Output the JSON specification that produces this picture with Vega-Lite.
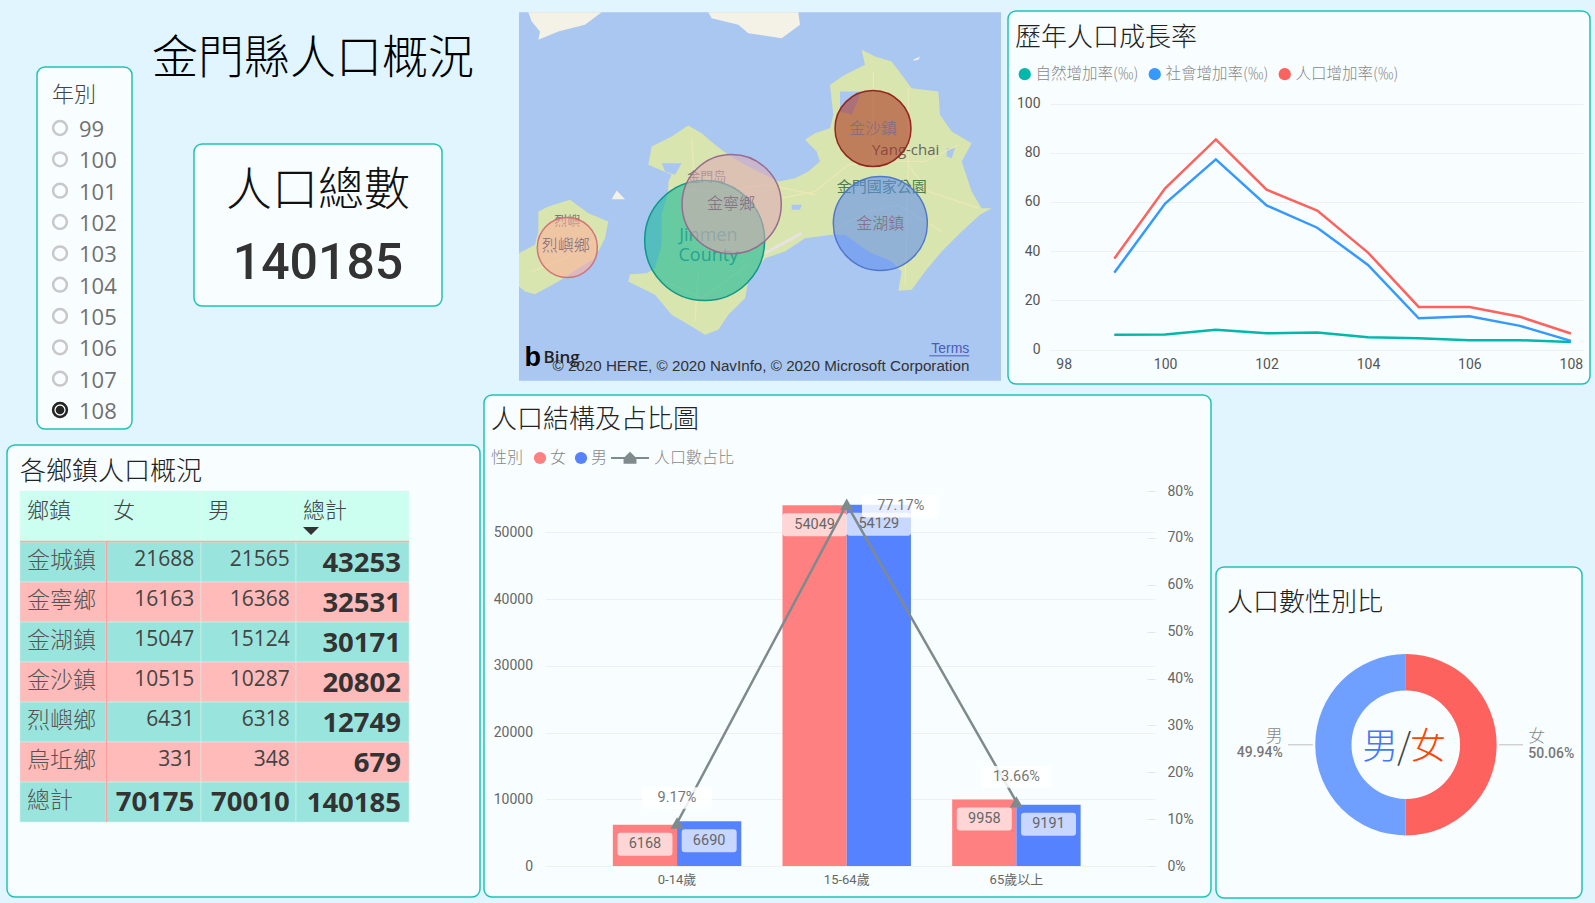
{"$schema":"https://vega.github.io/schema/vega-lite/v6.json","background":"#e0f5ff","padding":0,"spacing":0,"resolve":{"scale":{"color":"independent","fill":"independent","stroke":"independent","size":"independent"}},"config":{"font":"Roboto, Noto Sans CJK TC","view":{"stroke":null},"axis":{"labelFont":"Roboto, Noto Sans CJK TC"},"legend":{"labelFont":"Noto Sans CJK TC","titleFont":"Noto Sans CJK TC"},"concat":{"spacing":0}},
"hconcat":[
{"width":6,"height":20,"data":{"values":[{"s":1}]},"mark":{"type":"point","opacity":0,"size":0,"strokeWidth":0},"encoding":{}},
{"spacing":0,"resolve":{"scale":{"color":"independent","fill":"independent","stroke":"independent","size":"independent"}},"vconcat":[
 {"spacing":0,"resolve":{"scale":{"color":"independent","fill":"independent","stroke":"independent","size":"independent"}},"hconcat":[
  {"width":29,"height":444,"data":{"values":[{"s":1}]},"mark":{"type":"point","opacity":0,"size":0,"strokeWidth":0},"encoding":{}},
  {"spacing":0,"resolve":{"scale":{"color":"independent","fill":"independent","stroke":"independent","size":"independent"}},"vconcat":[
   {"width":95,"height":66,"data":{"values":[{"s":1}]},"mark":{"type":"point","opacity":0,"size":0,"strokeWidth":0},"encoding":{}},
   {"width":95,"height":362,"view":{"fill":"#f8feff","stroke":"#1fc2b5","strokeWidth":1.5,"cornerRadius":8},
    "title":{"text":"年別","anchor":"start","frame":"group","dy":66,"dx":15,"fontSize":22,"fontWeight":300,"font":"Noto Sans CJK TC","color":"#444","baseline":"bottom"},
    "data":{"values":[{"年別":"99","選取":false},{"年別":"100","選取":false},{"年別":"101","選取":false},{"年別":"102","選取":false},{"年別":"103","選取":false},{"年別":"104","選取":false},{"年別":"105","選取":false},{"年別":"106","選取":false},{"年別":"107","選取":false},{"年別":"108","選取":true}]},
    "encoding":{"y":{"field":"年別","type":"nominal","sort":null,"axis":null,"scale":{"type":"point","domain":["99","100","101","102","103","104","105","106","107","108"],"range":[61,343],"padding":0}}},
    "layer":[
     {"mark":{"type":"point","size":190,"strokeWidth":2.5,"color":"#c8c8c8","opacity":1},"encoding":{"x":{"datum":23,"type":"quantitative","axis":null,"scale":{"domain":[0,95],"nice":false}}}},
     {"transform":[{"filter":"datum['選取']"}],"mark":{"type":"point","size":190,"strokeWidth":2.5,"color":"#252423","opacity":1},"encoding":{"x":{"datum":23,"type":"quantitative","axis":null,"scale":{"domain":[0,95],"nice":false}}}},
     {"transform":[{"filter":"datum['選取']"}],"mark":{"type":"point","size":75,"filled":true,"color":"#252423","opacity":1},"encoding":{"x":{"datum":23,"type":"quantitative","axis":null,"scale":{"domain":[0,95],"nice":false}}}},
     {"mark":{"type":"text","align":"left","font":"Open Sans","fontSize":22,"color":"#707070","dy":2},"encoding":{"x":{"datum":42,"type":"quantitative","axis":null,"scale":{"domain":[0,95],"nice":false}},"text":{"field":"年別"}}}
    ]}
  ]},
  {"width":17,"height":20,"data":{"values":[{"s":1}]},"mark":{"type":"point","opacity":0,"size":0,"strokeWidth":0},"encoding":{}},
  {"spacing":0,"resolve":{"scale":{"color":"independent","fill":"independent","stroke":"independent","size":"independent"}},"vconcat":[
   {"width":326,"height":143,"data":{"values":[{"標題":"金門縣人口概況"}]},"mark":{"type":"text","font":"Noto Sans CJK TC","fontWeight":300,"fontSize":46,"color":"#000","dy":-13},"encoding":{"text":{"field":"標題"}}},
   {"spacing":0,"resolve":{"scale":{"color":"independent","fill":"independent","stroke":"independent","size":"independent"}},"hconcat":[
    {"width":43,"height":20,"data":{"values":[{"s":1}]},"mark":{"type":"point","opacity":0,"size":0,"strokeWidth":0},"encoding":{}},
    {"width":248,"height":162,"view":{"fill":"#f8feff","stroke":"#1fc2b5","strokeWidth":1.5,"cornerRadius":8},
    "data":{"values":[{"項目":"人口總數","值":140185}]},
    "layer":[
     {"mark":{"type":"text","font":"Noto Sans CJK TC","fontWeight":300,"fontSize":46,"color":"#111","dy":-34},"encoding":{"text":{"field":"項目"}}},
     {"mark":{"type":"text","font":"Roboto","fontWeight":500,"fontSize":50,"color":"#333","dy":39},"encoding":{"text":{"field":"值","format":"d"}}}
    ]}
   ]}
  ]}
 ]},
 {"width":473,"height":452,"view":{"fill":"#f8feff","stroke":"#1fc2b5","strokeWidth":1.5,"cornerRadius":8},
  "title":{"text":"各鄉鎮人口概況","anchor":"start","frame":"group","dy":70,"dx":13,"fontSize":26,"fontWeight":300,"font":"Noto Sans CJK TC","color":"#222","baseline":"bottom"},
  "data":{"values":[{"鄉鎮":"金城鎮","女":21688,"男":21565,"總計":43253},{"鄉鎮":"金寧鄉","女":16163,"男":16368,"總計":32531},{"鄉鎮":"金湖鎮","女":15047,"男":15124,"總計":30171},{"鄉鎮":"金沙鎮","女":10515,"男":10287,"總計":20802},{"鄉鎮":"烈嶼鄉","女":6431,"男":6318,"總計":12749},{"鄉鎮":"烏坵鄉","女":331,"男":348,"總計":679},{"鄉鎮":"總計","女":70175,"男":70010,"總計":140185}]},
  "encoding":{"y":{"field":"鄉鎮","type":"nominal","axis":null,"sort":null,"scale":{"type":"band","domain":["表頭","金城鎮","金寧鄉","金湖鎮","金沙鎮","烈嶼鄉","烏坵鄉","總計"],"range":[57,377],"paddingInner":0,"paddingOuter":0}}},
  "layer":[
   {"mark":{"type":"rect","stroke":"#d3efe9","strokeWidth":0.6},"encoding":{"x":{"datum":13,"type":"quantitative","axis":null,"scale":{"domain":[0,473],"nice":false}},"x2":{"datum":99},"fill":{"field":"鄉鎮","type":"nominal","legend":null,"scale":{"domain":["金城鎮","金寧鄉","金湖鎮","金沙鎮","烈嶼鄉","烏坵鄉","總計"],"range":["#99e5dd","#ffbaba","#99e5dd","#ffbaba","#99e5dd","#ffbaba","#99e5dd"]}}}},
   {"mark":{"type":"rect","stroke":"#d3efe9","strokeWidth":0.6},"encoding":{"x":{"datum":99,"type":"quantitative","axis":null,"scale":{"domain":[0,473],"nice":false}},"x2":{"datum":194},"fill":{"field":"鄉鎮","type":"nominal","legend":null}}},
   {"mark":{"type":"rect","stroke":"#d3efe9","strokeWidth":0.6},"encoding":{"x":{"datum":194,"type":"quantitative","axis":null,"scale":{"domain":[0,473],"nice":false}},"x2":{"datum":289},"fill":{"field":"鄉鎮","type":"nominal","legend":null}}},
   {"mark":{"type":"rect","stroke":"#d3efe9","strokeWidth":0.6},"encoding":{"x":{"datum":289,"type":"quantitative","axis":null,"scale":{"domain":[0,473],"nice":false}},"x2":{"datum":402},"fill":{"field":"鄉鎮","type":"nominal","legend":null}}},
   {"mark":{"type":"rect","color":"#ff9d9d"},"encoding":{"x":{"datum":98.8,"type":"quantitative","axis":null,"scale":{"domain":[0,473],"nice":false}},"x2":{"datum":100}}},
   {"data":{"values":[{"鄉鎮":"表頭","欄":"鄉鎮"}]},"mark":{"type":"rect","height":50,"yOffset":-6,"color":"#ccfff0","stroke":"#e8f5ee","strokeWidth":0.6},"encoding":{"x":{"datum":13,"type":"quantitative","axis":null,"scale":{"domain":[0,473],"nice":false}},"x2":{"datum":99}}},
   {"data":{"values":[{"鄉鎮":"表頭","欄":"女"}]},"mark":{"type":"rect","height":50,"yOffset":-6,"color":"#ccfff0","stroke":"#e8f5ee","strokeWidth":0.6},"encoding":{"x":{"datum":99,"type":"quantitative","axis":null,"scale":{"domain":[0,473],"nice":false}},"x2":{"datum":194}}},
   {"data":{"values":[{"鄉鎮":"表頭","欄":"男"}]},"mark":{"type":"rect","height":50,"yOffset":-6,"color":"#ccfff0","stroke":"#e8f5ee","strokeWidth":0.6},"encoding":{"x":{"datum":194,"type":"quantitative","axis":null,"scale":{"domain":[0,473],"nice":false}},"x2":{"datum":289}}},
   {"data":{"values":[{"鄉鎮":"表頭","欄":"總計"}]},"mark":{"type":"rect","height":50,"yOffset":-6,"color":"#ccfff0","stroke":"#e8f5ee","strokeWidth":0.6},"encoding":{"x":{"datum":289,"type":"quantitative","axis":null,"scale":{"domain":[0,473],"nice":false}},"x2":{"datum":402}}},
   {"data":{"values":[{"鄉鎮":"表頭"}]},"mark":{"type":"rect","height":1.5,"yOffset":19.5,"color":"#ffa9a9"},"encoding":{"x":{"datum":13,"type":"quantitative","axis":null,"scale":{"domain":[0,473],"nice":false}},"x2":{"datum":402}}},
   {"data":{"values":[{"鄉鎮":"表頭","欄":"鄉鎮"}]},"mark":{"type":"text","align":"left","font":"Noto Sans CJK TC","fontWeight":300,"fontSize":22,"color":"#444","dy":-11},"encoding":{"x":{"datum":20,"type":"quantitative","axis":null,"scale":{"domain":[0,473],"nice":false}},"text":{"field":"欄"}}},
   {"data":{"values":[{"鄉鎮":"表頭","欄":"女"}]},"mark":{"type":"text","align":"left","font":"Noto Sans CJK TC","fontWeight":300,"fontSize":22,"color":"#444","dy":-11},"encoding":{"x":{"datum":106,"type":"quantitative","axis":null,"scale":{"domain":[0,473],"nice":false}},"text":{"field":"欄"}}},
   {"data":{"values":[{"鄉鎮":"表頭","欄":"男"}]},"mark":{"type":"text","align":"left","font":"Noto Sans CJK TC","fontWeight":300,"fontSize":22,"color":"#444","dy":-11},"encoding":{"x":{"datum":201,"type":"quantitative","axis":null,"scale":{"domain":[0,473],"nice":false}},"text":{"field":"欄"}}},
   {"data":{"values":[{"鄉鎮":"表頭","欄":"總計"}]},"mark":{"type":"text","align":"left","font":"Noto Sans CJK TC","fontWeight":300,"fontSize":22,"color":"#444","dy":-11},"encoding":{"x":{"datum":296,"type":"quantitative","axis":null,"scale":{"domain":[0,473],"nice":false}},"text":{"field":"欄"}}},
   {"data":{"values":[{"鄉鎮":"表頭","排序":"遞減"}]},"mark":{"type":"point","filled":true,"opacity":1,"color":"#333","strokeWidth":0,"size":256,"yOffset":9,"shape":"M-1,-0.5 L1,-0.5 L0,0.5 Z"},"encoding":{"x":{"datum":304,"type":"quantitative","axis":null,"scale":{"domain":[0,473],"nice":false}}}},
   {"mark":{"type":"text","align":"left","font":"Noto Sans CJK TC","fontWeight":300,"fontSize":23,"color":"#555","dy":-1},"encoding":{"x":{"datum":20,"type":"quantitative","axis":null,"scale":{"domain":[0,473],"nice":false}},"text":{"field":"鄉鎮"}}},
   {"transform":[{"filter":"datum['鄉鎮'] !== '總計'"}],"mark":{"type":"text","align":"right","font":"Open Sans","fontSize":21,"color":"#444","dy":-2},"encoding":{"x":{"datum":187.3,"type":"quantitative","axis":null,"scale":{"domain":[0,473],"nice":false}},"text":{"field":"女","format":"d"}}},
   {"transform":[{"filter":"datum['鄉鎮'] !== '總計'"}],"mark":{"type":"text","align":"right","font":"Open Sans","fontSize":21,"color":"#444","dy":-2},"encoding":{"x":{"datum":282.7,"type":"quantitative","axis":null,"scale":{"domain":[0,473],"nice":false}},"text":{"field":"男","format":"d"}}},
   {"transform":[{"filter":"datum['鄉鎮'] === '總計'"}],"mark":{"type":"text","align":"right","font":"Open Sans","fontWeight":"bold","fontSize":27.5,"color":"#333","dy":1},"encoding":{"x":{"datum":187.3,"type":"quantitative","axis":null,"scale":{"domain":[0,473],"nice":false}},"text":{"field":"女","format":"d"}}},
   {"transform":[{"filter":"datum['鄉鎮'] === '總計'"}],"mark":{"type":"text","align":"right","font":"Open Sans","fontWeight":"bold","fontSize":27.5,"color":"#333","dy":1},"encoding":{"x":{"datum":282.7,"type":"quantitative","axis":null,"scale":{"domain":[0,473],"nice":false}},"text":{"field":"男","format":"d"}}},
   {"mark":{"type":"text","align":"right","font":"Open Sans","fontWeight":"bold","fontSize":27.5,"color":"#333","dy":2},"encoding":{"x":{"datum":394,"type":"quantitative","axis":null,"scale":{"domain":[0,473],"nice":false}},"text":{"field":"總計","format":"d"}}}
  ]},
 {"width":20,"height":4,"data":{"values":[{"s":1}]},"mark":{"type":"point","opacity":0,"size":0,"strokeWidth":0},"encoding":{}}
]},
{"width":2,"height":20,"data":{"values":[{"s":1}]},"mark":{"type":"point","opacity":0,"size":0,"strokeWidth":0},"encoding":{}},
{"spacing":0,"resolve":{"scale":{"color":"independent","fill":"independent","stroke":"independent","size":"independent"}},"vconcat":[
 {"spacing":0,"resolve":{"scale":{"color":"independent","fill":"independent","stroke":"independent","size":"independent"}},"hconcat":[
  {"width":35,"height":392,"data":{"values":[{"s":1}]},"mark":{"type":"point","opacity":0,"size":0,"strokeWidth":0},"encoding":{}},
  {"spacing":0,"resolve":{"scale":{"color":"independent","fill":"independent","stroke":"independent","size":"independent"}},"vconcat":[
   {"width":482,"height":12,"data":{"values":[{"s":1}]},"mark":{"type":"point","opacity":0,"size":0,"strokeWidth":0},"encoding":{}},
   {"width":482,"height":369,"projection":{"type":"identity","reflectY":true},
    "layer":[
     {"data":{"values":[
       {"type":"Feature","properties":{"類別":"海"},"geometry":{"type":"Polygon","coordinates":[[[118.012,24.978],[119.458,24.978],[119.458,23.872],[118.012,23.872],[118.012,24.978]]]}},
       {"type":"Feature","properties":{"類別":"大陸"},"geometry":{"type":"Polygon","coordinates":[[[118.04,24.978],[118.26,24.978],[118.21,24.94],[118.13,24.92],[118.07,24.895],[118.075,24.92],[118.05,24.95],[118.04,24.978]]]}},
       {"type":"Feature","properties":{"類別":"大陸"},"geometry":{"type":"Polygon","coordinates":[[[118.58,24.978],[118.85,24.978],[118.855,24.94],[118.8,24.9],[118.7,24.915],[118.67,24.94],[118.59,24.96],[118.58,24.978]]]}},
       {"type":"Feature","properties":{"類別":"大陸"},"geometry":{"type":"Polygon","coordinates":[[[118.29,24.417],[118.305,24.443],[118.33,24.417],[118.29,24.417]]]}},
       {"type":"Feature","properties":{"類別":"大陸"},"geometry":{"type":"Polygon","coordinates":[[[119.195,24.835],[119.215,24.845],[119.21,24.835],[119.195,24.832],[119.195,24.835]]]}},
       {"type":"Feature","properties":{"類別":"陸地","名稱":"大金門"},"geometry":{"type":"Polygon","coordinates":[[[118.52,24.638],[118.56,24.615],[118.6,24.58],[118.64,24.55],[118.69,24.52],[118.74,24.495],[118.79,24.47],[118.84,24.48],[118.88,24.5],[118.915,24.53],[118.905,24.56],[118.87,24.595],[118.9,24.615],[118.945,24.63],[118.955,24.67],[118.945,24.76],[118.99,24.79],[119.05,24.82],[119.04,24.865],[119.08,24.845],[119.13,24.83],[119.16,24.79],[119.19,24.75],[119.27,24.74],[119.275,24.67],[119.31,24.62],[119.37,24.585],[119.34,24.53],[119.37,24.44],[119.4,24.39],[119.43,24.39],[119.395,24.37],[119.34,24.32],[119.28,24.26],[119.23,24.2],[119.19,24.145],[119.15,24.142],[119.16,24.2],[119.13,24.23],[119.06,24.26],[118.99,24.31],[118.95,24.31],[118.87,24.3],[118.81,24.26],[118.75,24.24],[118.7,24.17],[118.69,24.12],[118.64,24.07],[118.61,24.025],[118.57,24.01],[118.53,24.035],[118.47,24.07],[118.42,24.13],[118.34,24.17],[118.345,24.192],[118.395,24.195],[118.42,24.21],[118.44,24.28],[118.44,24.37],[118.46,24.44],[118.46,24.47],[118.47,24.49],[118.4,24.52],[118.41,24.575],[118.47,24.605],[118.52,24.638]]]}},
       {"type":"Feature","properties":{"類別":"陸地","名稱":"烈嶼"},"geometry":{"type":"Polygon","coordinates":[[[118.07,24.38],[118.1,24.395],[118.165,24.415],[118.22,24.375],[118.28,24.35],[118.27,24.3],[118.24,24.24],[118.19,24.21],[118.13,24.17],[118.06,24.132],[118.03,24.14],[118.012,24.155],[118.012,24.255],[118.06,24.28],[118.07,24.32],[118.07,24.38]]]}},
       {"type":"Feature","properties":{"類別":"湖"},"geometry":{"type":"Polygon","coordinates":[[[118.44,24.525],[118.5,24.525],[118.48,24.49],[118.45,24.5],[118.44,24.525]]]}},
       {"type":"Feature","properties":{"類別":"湖"},"geometry":{"type":"Polygon","coordinates":[[[118.975,24.74],[119.04,24.74],[119.01,24.67],[118.975,24.68],[118.975,24.74]]]}},
       {"type":"Feature","properties":{"類別":"湖"},"geometry":{"type":"Polygon","coordinates":[[[118.83,24.4],[118.86,24.4],[118.855,24.385],[118.83,24.385],[118.83,24.4]]]}},
       {"type":"Feature","properties":{"類別":"湖"},"geometry":{"type":"Polygon","coordinates":[[[119.295,24.57],[119.32,24.57],[119.31,24.54],[119.295,24.545],[119.295,24.57]]]}}
      ]},
      "mark":{"type":"geoshape","strokeWidth":0},
      "encoding":{"color":{"field":"properties.類別","type":"nominal","legend":null,"scale":{"domain":["海","大陸","陸地","湖"],"range":["#aac7f1","#f4f1e6","#d9e5ae","#aac7f1"]}}}},
     {"data":{"values":[
       {"type":"Feature","properties":{"類別":"道路"},"geometry":{"type":"MultiLineString","coordinates":[[[118.8,24.42],[118.9,24.44],[119.0,24.52],[119.1,24.53],[119.23,24.53],[119.33,24.58]],[[118.95,24.32],[119.06,24.38],[119.15,24.4],[119.28,24.32]],[[119.075,24.8],[119.075,24.52]],[[119.18,24.52],[119.24,24.44],[119.39,24.39]],[[118.46,24.45],[118.6,24.44],[118.76,24.46],[118.9,24.43]],[[118.45,24.17],[118.56,24.12],[118.7,24.22]],[[118.05,24.2],[118.15,24.24],[118.25,24.3]],[[118.53,24.6],[118.54,24.44]],[[118.54,24.05],[118.55,24.2]],[[119.18,24.75],[119.18,24.52],[119.17,24.16]]]}}
      ]},"mark":{"type":"geoshape","filled":false,"stroke":"#ece8b4","strokeWidth":1.2}},
     {"data":{"values":[{"type":"Feature","properties":{"類別":"機場"},"geometry":{"type":"LineString","coordinates":[[118.75,24.255],[118.86,24.315]]}}]},"mark":{"type":"geoshape","filled":false,"stroke":"#e6e2e2","strokeWidth":3}},
     {"data":{"values":[{"label":"金門岛","lon":118.575,"lat":24.485},{"label":"烈嶼","lon":118.157,"lat":24.352}]},"mark":{"type":"text","font":"Noto Sans CJK TC","fontSize":13,"color":"#777"},"encoding":{"longitude":{"field":"lon","type":"quantitative"},"latitude":{"field":"lat","type":"quantitative"},"text":{"field":"label"}}},
     {"data":{"values":[{"label":"金門國家公園","lon":119.1,"lat":24.454}]},"mark":{"type":"text","font":"Noto Sans CJK TC","fontSize":15,"color":"#4d7d52"},"encoding":{"longitude":{"field":"lon","type":"quantitative"},"latitude":{"field":"lat","type":"quantitative"},"text":{"field":"label"}}},
     {"data":{"values":[{"label":"Yang-chai","lon":119.172,"lat":24.564}]},"mark":{"type":"text","font":"Open Sans","fontSize":15,"color":"#666"},"encoding":{"longitude":{"field":"lon","type":"quantitative"},"latitude":{"field":"lat","type":"quantitative"},"text":{"field":"label"}}},
     {"data":{"values":[{"label":"Jinmen","lon":118.58,"lat":24.307},{"label":"County","lon":118.58,"lat":24.248}]},"mark":{"type":"text","font":"Open Sans","fontSize":18,"color":"#3f8585"},"encoding":{"longitude":{"field":"lon","type":"quantitative"},"latitude":{"field":"lat","type":"quantitative"},"text":{"field":"label"}}},
     {"data":{"values":[{"鄉鎮":"金城鎮","lon":118.569,"lat":24.293,"總計":43253},{"鄉鎮":"金寧鄉","lon":118.65,"lat":24.402,"總計":32531},{"鄉鎮":"金湖鎮","lon":119.096,"lat":24.344,"總計":30171},{"鄉鎮":"金沙鎮","lon":119.074,"lat":24.629,"總計":20802},{"鄉鎮":"烈嶼鄉","lon":118.157,"lat":24.272,"總計":12749}]},
      "mark":{"type":"point","filled":true,"fillOpacity":0.58,"strokeOpacity":0.95,"strokeWidth":1.5,"opacity":1},
      "encoding":{"longitude":{"field":"lon","type":"quantitative"},"latitude":{"field":"lat","type":"quantitative"},
       "size":{"field":"總計","type":"quantitative","legend":null,"scale":{"domain":[12749,20802,30171,32531,43253],"range":[3600,5776,8836,9841,14400],"zero":false}},
       "fill":{"field":"鄉鎮","type":"nominal","legend":null,"scale":{"domain":["金城鎮","金寧鄉","金湖鎮","金沙鎮","烈嶼鄉"],"range":["#14b897","#dfa8b5","#5d8ef0","#ab3320","#ffb09c"]}},
       "stroke":{"field":"鄉鎮","type":"nominal","legend":null,"scale":{"domain":["金城鎮","金寧鄉","金湖鎮","金沙鎮","烈嶼鄉"],"range":["#0a9484","#94688c","#4a74c8","#8e2018","#d06f74"]}}}},
     {"data":{"values":[{"鄉鎮":"金城鎮","lon":118.569,"lat":24.293},{"鄉鎮":"金寧鄉","lon":118.648,"lat":24.402},{"鄉鎮":"金湖鎮","lon":119.096,"lat":24.344},{"鄉鎮":"金沙鎮","lon":119.074,"lat":24.629},{"鄉鎮":"烈嶼鄉","lon":118.152,"lat":24.276}]},
      "transform":[{"filter":"datum['鄉鎮'] !== '金城鎮'"}],
      "mark":{"type":"text","font":"Noto Sans CJK TC","fontWeight":300,"fontSize":16,"color":"#7f6a80"},"encoding":{"longitude":{"field":"lon","type":"quantitative"},"latitude":{"field":"lat","type":"quantitative"},"text":{"field":"鄉鎮"}}},
     {"data":{"values":[{"type":"Feature","properties":{"類別":"連結線"},"geometry":{"type":"LineString","coordinates":[[119.243,23.947],[119.363,23.947]]}}]},"mark":{"type":"geoshape","filled":false,"stroke":"#4a5bb8","strokeWidth":1}},
     {"data":{"values":[{"label":"Terms","lon":119.363,"lat":23.967}]},"mark":{"type":"text","align":"right","font":"Liberation Sans","fontSize":14,"color":"#4a5bb8"},"encoding":{"longitude":{"field":"lon","type":"quantitative"},"latitude":{"field":"lat","type":"quantitative"},"text":{"field":"label"}}},
     {"data":{"values":[{"label":"b","lon":118.053,"lat":23.94}]},"mark":{"type":"text","font":"Liberation Sans","fontWeight":"bold","fontSize":27,"color":"#000"},"encoding":{"longitude":{"field":"lon","type":"quantitative"},"latitude":{"field":"lat","type":"quantitative"},"text":{"field":"label"}}},
     {"data":{"values":[{"label":"Bing","lon":118.14,"lat":23.94}]},"mark":{"type":"text","font":"Open Sans","fontWeight":600,"fontSize":17,"color":"#222"},"encoding":{"longitude":{"field":"lon","type":"quantitative"},"latitude":{"field":"lat","type":"quantitative"},"text":{"field":"label"}}},
     {"data":{"values":[{"label":"© 2020 HERE, © 2020 NavInfo, © 2020 Microsoft Corporation","lon":119.363,"lat":23.917}]},"mark":{"type":"text","align":"right","font":"Liberation Sans","fontSize":15.2,"color":"#333"},"encoding":{"longitude":{"field":"lon","type":"quantitative"},"latitude":{"field":"lat","type":"quantitative"},"text":{"field":"label"}}}
    ]}
  ]},
  {"width":6,"height":20,"data":{"values":[{"s":1}]},"mark":{"type":"point","opacity":0,"size":0,"strokeWidth":0},"encoding":{}},
  {"spacing":0,"resolve":{"scale":{"color":"independent","fill":"independent","stroke":"independent","size":"independent"}},"vconcat":[
   {"width":582,"height":10,"data":{"values":[{"s":1}]},"mark":{"type":"point","opacity":0,"size":0,"strokeWidth":0},"encoding":{}},
   {"width":582,"height":373,"view":{"fill":"#f8feff","stroke":"#1fc2b5","strokeWidth":1.5,"cornerRadius":8},
    "title":{"text":"歷年人口成長率","anchor":"start","frame":"group","dy":70,"dx":7,"fontSize":26,"fontWeight":300,"font":"Noto Sans CJK TC","color":"#222","baseline":"bottom"},
    "data":{"values":[
     {"年別":99,"系列":"自然增加率(‰)","值":6},{"年別":100,"系列":"自然增加率(‰)","值":6.1},{"年別":101,"系列":"自然增加率(‰)","值":8},{"年別":102,"系列":"自然增加率(‰)","值":6.6},{"年別":103,"系列":"自然增加率(‰)","值":6.9},{"年別":104,"系列":"自然增加率(‰)","值":5},{"年別":105,"系列":"自然增加率(‰)","值":4.6},{"年別":106,"系列":"自然增加率(‰)","值":3.8},{"年別":107,"系列":"自然增加率(‰)","值":3.8},{"年別":108,"系列":"自然增加率(‰)","值":3},
     {"年別":99,"系列":"社會增加率(‰)","值":31.3},{"年別":100,"系列":"社會增加率(‰)","值":59.3},{"年別":101,"系列":"社會增加率(‰)","值":77.3},{"年別":102,"系列":"社會增加率(‰)","值":58.6},{"年別":103,"系列":"社會增加率(‰)","值":49.5},{"年別":104,"系列":"社會增加率(‰)","值":34.4},{"年別":105,"系列":"社會增加率(‰)","值":12.7},{"年別":106,"系列":"社會增加率(‰)","值":13.5},{"年別":107,"系列":"社會增加率(‰)","值":9.6},{"年別":108,"系列":"社會增加率(‰)","值":3.5},
     {"年別":99,"系列":"人口增加率(‰)","值":37},{"年別":100,"系列":"人口增加率(‰)","值":65.5},{"年別":101,"系列":"人口增加率(‰)","值":85.4},{"年別":102,"系列":"人口增加率(‰)","值":65},{"年別":103,"系列":"人口增加率(‰)","值":56.5},{"年別":104,"系列":"人口增加率(‰)","值":39.4},{"年別":105,"系列":"人口增加率(‰)","值":17.3},{"年別":106,"系列":"人口增加率(‰)","值":17.3},{"年別":107,"系列":"人口增加率(‰)","值":13.3},{"年別":108,"系列":"人口增加率(‰)","值":6.5}
    ]},
    "encoding":{
     "x":{"field":"年別","type":"quantitative","scale":{"domain":[97.73,108.24],"range":[42,575],"nice":false,"zero":false},"axis":{"title":null,"values":[98,100,102,104,106,108],"format":"d","grid":false,"domain":false,"ticks":false,"offset":-27,"labelPadding":0,"labelBaseline":"top","labelFontSize":14,"labelColor":"#555"}},
     "y":{"field":"值","type":"quantitative","scale":{"domain":[0,100],"range":[338.5,92.5],"nice":false},"axis":{"title":null,"values":[0,20,40,60,80,100],"grid":true,"gridColor":"#eef0f2","gridWidth":1.2,"domain":false,"ticks":false,"offset":-34,"labelPadding":2,"labelFontSize":14,"labelColor":"#555"}}},
    "layer":[
     {"mark":{"type":"line","strokeWidth":2.5},"encoding":{"color":{"field":"系列","type":"nominal","sort":null,"legend":null,"scale":{"domain":["人口增加率(‰)","社會增加率(‰)","自然增加率(‰)"],"range":["#fd625e","#3599ff","#01b8aa"]}}}},
     {"mark":{"type":"point","filled":true,"size":1,"opacity":1,"strokeWidth":0},"encoding":{"fill":{"field":"系列","type":"nominal","sort":null,"scale":{"domain":["自然增加率(‰)","社會增加率(‰)","人口增加率(‰)"],"range":["#01b8aa","#3599ff","#fd625e"]},"legend":{"orient":"none","legendX":9,"legendY":55,"direction":"horizontal","title":null,"symbolType":"circle","symbolSize":150,"symbolOpacity":1,"labelFontSize":15.5,"labelFontWeight":300,"labelColor":"#888","labelLimit":300,"columnPadding":8,"labelOffset":3}}}}
    ]},
   {"width":20,"height":9,"data":{"values":[{"s":1}]},"mark":{"type":"point","opacity":0,"size":0,"strokeWidth":0},"encoding":{}}
  ]}
 ]},
 {"spacing":0,"resolve":{"scale":{"color":"independent","fill":"independent","stroke":"independent","size":"independent"}},"hconcat":[
  {"width":727,"height":502,"view":{"fill":"#f8feff","stroke":"#1fc2b5","strokeWidth":1.5,"cornerRadius":8},
   "title":{"text":"人口結構及占比圖","anchor":"start","frame":"group","dy":68,"dx":7,"fontSize":26,"fontWeight":300,"font":"Noto Sans CJK TC","color":"#222","baseline":"bottom"},
   "resolve":{"scale":{"y":"independent"},"axis":{"y":"independent"}},
   "layer":[
    {"data":{"values":[{"年齡層":"0-14歲","性別":"女","人口數":6168},{"年齡層":"0-14歲","性別":"男","人口數":6690},{"年齡層":"15-64歲","性別":"女","人口數":54049},{"年齡層":"15-64歲","性別":"男","人口數":54129},{"年齡層":"65歲以上","性別":"女","人口數":9958},{"年齡層":"65歲以上","性別":"男","人口數":9191}]},
     "encoding":{
      "x":{"field":"年齡層","type":"nominal","sort":null,"scale":{"type":"band","domain":["0-14歲","15-64歲","65歲以上"],"range":[61,671],"paddingInner":0.243,"paddingOuter":0.419,"align":0.477},"axis":{"title":null,"labelAngle":0,"domain":false,"ticks":false,"grid":false,"offset":-24,"labelPadding":0,"labelBaseline":"top","labelFontSize":13,"labelColor":"#666"}},
      "xOffset":{"field":"性別","type":"nominal","sort":null,"scale":{"domain":["女","男"],"paddingInner":0,"paddingOuter":0}},
      "y":{"field":"人口數","type":"quantitative","scale":{"domain":[0,56190],"range":[471,96],"nice":false},"axis":{"title":null,"values":[0,10000,20000,30000,40000,50000],"format":"d","grid":true,"gridColor":"#eef0f2","gridWidth":1.2,"domain":false,"ticks":false,"offset":-50.5,"labelPadding":2,"labelFontSize":14,"labelColor":"#666"}}},
     "layer":[
      {"mark":{"type":"bar"},"encoding":{"color":{"field":"性別","type":"nominal","sort":null,"scale":{"domain":["女","男"],"range":["#ff8080","#5583ff"]},"legend":{"orient":"none","legendX":7,"legendY":55,"direction":"horizontal","title":"性別","titleOrient":"left","titleFontSize":16,"titleFontWeight":300,"titleColor":"#888","titlePadding":8,"symbolType":"circle","symbolSize":150,"labelFontSize":16,"labelFontWeight":300,"labelColor":"#888","columnPadding":6,"labelOffset":2}}}},
      {"transform":[{"filter":"datum['人口數'] < 10000"}],"mark":{"type":"point","filled":true,"color":"#fff","opacity":0.68,"size":3025,"yOffset":19.5,"shape":"M-0.88,-0.418 L0.88,-0.418 Q1,-0.418 1,-0.3 L1,0.3 Q1,0.418 0.88,0.418 L-0.88,0.418 Q-1,0.418 -1,0.3 L-1,-0.3 Q-1,-0.418 -0.88,-0.418 Z"}},
      {"transform":[{"filter":"datum['人口數'] >= 10000"}],"mark":{"type":"point","filled":true,"color":"#fff","opacity":0.68,"size":4160,"yOffset":19.5,"shape":"M-0.9,-0.354 L0.9,-0.354 Q1,-0.354 1,-0.25 L1,0.25 Q1,0.354 0.9,0.354 L-0.9,0.354 Q-1,0.354 -1,0.25 L-1,-0.25 Q-1,-0.354 -0.9,-0.354 Z"}},
      {"mark":{"type":"text","font":"Roboto","fontSize":14.5,"color":"#666","yOffset":19.5},"encoding":{"text":{"field":"人口數","format":"d"}}}
     ]},
    {"data":{"values":[{"年齡層":"0-14歲","占比":0.0917,"系列":"人口數占比"},{"年齡層":"15-64歲","占比":0.7717,"系列":"人口數占比"},{"年齡層":"65歲以上","占比":0.1366,"系列":"人口數占比"}]},
     "encoding":{
      "x":{"field":"年齡層","type":"nominal","sort":null},
      "y":{"field":"占比","type":"quantitative","scale":{"domain":[0,0.8],"range":[471,96],"nice":false},"axis":{"orient":"right","title":null,"values":[0,0.1,0.2,0.3,0.4,0.5,0.6,0.7,0.8],"format":".0%","grid":false,"domain":false,"tickSize":8,"tickColor":"#e4e6e8","offset":-64,"labelPadding":12,"labelFontSize":14,"labelColor":"#666"}}},
     "layer":[
      {"mark":{"type":"line","stroke":"#7f8a8c","strokeWidth":2.5}},
      {"mark":{"type":"point","filled":true,"opacity":1,"shape":"triangle-up","size":170,"strokeWidth":0},"encoding":{"fill":{"field":"系列","type":"nominal","scale":{"domain":["人口數占比"],"range":["#7f8a8c"]},"legend":{"orient":"none","legendX":127,"legendY":44,"direction":"horizontal","title":null,"symbolType":"M-1,-0.05 L-0.28,-0.05 L0,-0.33 L0.28,-0.05 L1,-0.05 L1,0.05 L0.34,0.05 L0.34,0.3 L-0.34,0.3 L-0.34,0.05 L-1,0.05 Z","symbolSize":1440,"symbolStrokeWidth":0,"symbolOpacity":1,"labelFontSize":16,"labelFontWeight":300,"labelColor":"#888","labelOffset":5}}}},
      {"transform":[{"filter":"datum['占比'] < 0.5"}],"mark":{"type":"point","filled":true,"color":"#fff","opacity":0.85,"size":4900,"yOffset":-25,"shape":"M-0.9,-0.31 L0.9,-0.31 Q1,-0.31 1,-0.2 L1,0.2 Q1,0.31 0.9,0.31 L-0.9,0.31 Q-1,0.31 -1,0.2 L-1,-0.2 Q-1,-0.31 -0.9,-0.31 Z"}},
      {"transform":[{"filter":"datum['占比'] >= 0.5"}],"mark":{"type":"point","filled":true,"color":"#fff","opacity":0.85,"size":6000,"xOffset":54,"yOffset":2,"shape":"M-0.9,-0.29 L0.9,-0.29 Q1,-0.29 1,-0.2 L1,0.2 Q1,0.29 0.9,0.29 L-0.9,0.29 Q-1,0.29 -1,0.2 L-1,-0.2 Q-1,-0.29 -0.9,-0.29 Z"}},
      {"transform":[{"filter":"datum['占比'] < 0.5"}],"mark":{"type":"text","font":"Roboto","fontSize":14.5,"color":"#777","yOffset":-25},"encoding":{"text":{"field":"占比","format":".2%"}}},
      {"transform":[{"filter":"datum['占比'] >= 0.5"}],"mark":{"type":"text","font":"Roboto","fontSize":14.5,"color":"#777","xOffset":54,"yOffset":2},"encoding":{"text":{"field":"占比","format":".2%"}}}
     ]}
   ]},
  {"width":3,"height":20,"data":{"values":[{"s":1}]},"mark":{"type":"point","opacity":0,"size":0,"strokeWidth":0},"encoding":{}},
  {"spacing":0,"resolve":{"scale":{"color":"independent","fill":"independent","stroke":"independent","size":"independent"}},"vconcat":[
   {"width":366,"height":171,"data":{"values":[{"s":1}]},"mark":{"type":"point","opacity":0,"size":0,"strokeWidth":0},"encoding":{}},
   {"width":366,"height":331,"view":{"fill":"#f8feff","stroke":"#1fc2b5","strokeWidth":1.5,"cornerRadius":8},
    "title":{"text":"人口數性別比","anchor":"start","frame":"group","dy":79,"dx":11,"fontSize":26,"fontWeight":300,"font":"Noto Sans CJK TC","color":"#222","baseline":"bottom"},
    "data":{"values":[{"性別":"女","占比":0.5006},{"性別":"男","占比":0.4994}]},
    "layer":[
     {"mark":{"type":"arc","outerRadius":90.7,"innerRadius":54.3},"encoding":{"x":{"datum":0,"type":"quantitative","axis":null,"scale":{"domain":[-2.0915,1.94],"nice":false,"zero":false}},"y":{"datum":0,"type":"quantitative","axis":null,"scale":{"domain":[-1.69,1.96],"nice":false,"zero":false}},"theta":{"field":"占比","type":"quantitative"},"color":{"field":"性別","type":"nominal","sort":null,"legend":null,"scale":{"domain":["女","男"],"range":["#fd625e","#6f9fff"]}}}},
     {"transform":[{"filter":"datum['性別'] === '男'"}],"mark":{"type":"rule","color":"#c8c8c8","strokeWidth":1.2},"encoding":{"x":{"datum":-1.298,"type":"quantitative"},"x2":{"datum":-1.025},"y":{"datum":0,"type":"quantitative"}}},
     {"transform":[{"filter":"datum['性別'] === '女'"}],"mark":{"type":"rule","color":"#c8c8c8","strokeWidth":1.2},"encoding":{"x":{"datum":1.025,"type":"quantitative"},"x2":{"datum":1.29},"y":{"datum":0,"type":"quantitative"}}},
     {"transform":[{"filter":"datum['性別'] === '男'"}],"mark":{"type":"text","align":"right","font":"Noto Sans CJK TC","fontWeight":300,"fontSize":17,"color":"#888"},"encoding":{"x":{"datum":-1.356,"type":"quantitative"},"y":{"datum":0.084,"type":"quantitative"},"text":{"field":"性別"}}},
     {"transform":[{"filter":"datum['性別'] === '男'"}],"mark":{"type":"text","align":"right","font":"Roboto","fontWeight":500,"fontSize":14,"color":"#777"},"encoding":{"x":{"datum":-1.356,"type":"quantitative"},"y":{"datum":-0.093,"type":"quantitative"},"text":{"field":"占比","format":".2%"}}},
     {"transform":[{"filter":"datum['性別'] === '女'"}],"mark":{"type":"text","align":"left","font":"Noto Sans CJK TC","fontWeight":300,"fontSize":17,"color":"#888"},"encoding":{"x":{"datum":1.348,"type":"quantitative"},"y":{"datum":0.084,"type":"quantitative"},"text":{"field":"性別"}}},
     {"transform":[{"filter":"datum['性別'] === '女'"}],"mark":{"type":"text","align":"left","font":"Roboto","fontWeight":500,"fontSize":14,"color":"#777"},"encoding":{"x":{"datum":1.348,"type":"quantitative"},"y":{"datum":-0.097,"type":"quantitative"},"text":{"field":"占比","format":".2%"}}},
     {"transform":[{"filter":"datum['性別'] === '男'"}],"mark":{"type":"text","font":"Noto Sans CJK TC","fontWeight":300,"fontSize":36,"color":"#4477ff"},"encoding":{"x":{"datum":-0.283,"type":"quantitative"},"y":{"datum":-0.04,"type":"quantitative"},"text":{"field":"性別"}}},
     {"data":{"values":[{"分隔":"/"}]},"mark":{"type":"text","font":"Noto Sans CJK TC","fontWeight":300,"fontSize":36,"color":"#444"},"encoding":{"x":{"datum":-0.019,"type":"quantitative"},"y":{"datum":-0.04,"type":"quantitative"},"text":{"field":"分隔"}}},
     {"transform":[{"filter":"datum['性別'] === '女'"}],"mark":{"type":"text","font":"Noto Sans CJK TC","fontWeight":300,"fontSize":36,"color":"#ff4500"},"encoding":{"x":{"datum":0.245,"type":"quantitative"},"y":{"datum":-0.04,"type":"quantitative"},"text":{"field":"性別"}}}
    ]},
   {"width":20,"height":6,"data":{"values":[{"s":1}]},"mark":{"type":"point","opacity":0,"size":0,"strokeWidth":0},"encoding":{}}
  ]}
 ]}
]},
{"width":6,"height":20,"data":{"values":[{"s":1}]},"mark":{"type":"point","opacity":0,"size":0,"strokeWidth":0},"encoding":{}}
]}
